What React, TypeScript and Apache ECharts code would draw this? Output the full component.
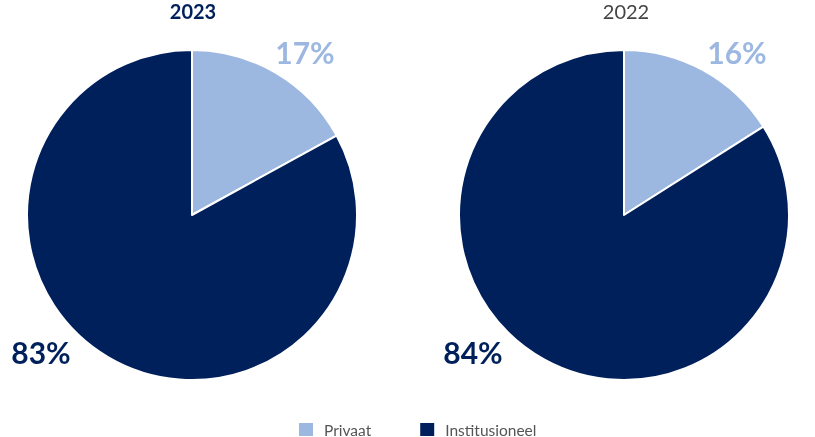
import React, { useEffect, useRef } from "react";
import * as echarts from "echarts";

const categories = ["Privaat", "Institusioneel"];
const years = ["2023", "2022"];
const values2023 = [17, 83];
const values2022 = [16, 84];
const colors = ["#9db8e0", "#00205b"];

export default function App() {
  const ref = useRef<HTMLDivElement>(null);
  useEffect(() => {
    if (!ref.current) return;
    const chart = echarts.init(ref.current, null, { renderer: "svg" });
    const labelPos = (cx: number) => (params: any) => {
      if (params.dataIndex === 0) {
        return { x: cx + 113, y: 52, align: "center", verticalAlign: "middle" };
      }
      return { x: cx - 151, y: 352, align: "center", verticalAlign: "middle" };
    };
    const mkSeries = (name: string, vals: number[], cx: number) => ({
      type: "pie",
      name,
      center: [cx, 215],
      radius: [0, 165],
      startAngle: 90,
      clockwise: true,
      silent: true,
      itemStyle: { borderColor: "#ffffff", borderWidth: 2 },
      label: {
        show: true,
        position: "outside",
        formatter: (p: any) => `${p.value}%`,
        fontSize: 30,
        fontWeight: "bold",
        fontFamily: "Lato",
        overflow: "none",
        width: 100,
      },
      labelLine: { show: false },
      labelLayout: labelPos(cx),
      data: categories.map((c, i) => ({
        name: c,
        value: vals[i],
        itemStyle: { color: colors[i] },
        label: { color: colors[i] },
      })),
    });
    chart.setOption({
      animation: false,
      color: colors,
      title: [
        {
          text: years[0],
          left: 193,
          top: 1,
          padding: 0,
          textAlign: "center",
          textStyle: { fontSize: 20, fontWeight: "bold", color: "#00205b", fontFamily: "Lato" },
        },
        {
          text: years[1],
          left: 626,
          top: 1,
          padding: 0,
          textAlign: "center",
          textStyle: { fontSize: 20, fontWeight: "normal", color: "#444444", fontFamily: "Lato" },
        },
      ],
      legend: {
        data: categories,
        top: 421,
        left: 297,
        padding: 0,
        icon: "rect",
        itemWidth: 16,
        itemHeight: 15,
        itemGap: 47,
        textStyle: {
          fontSize: 15.5,
          color: "#555555",
          fontFamily: "Lato",
          padding: [0, 0, 0, 5],
        },
      },
      series: [mkSeries(years[0], values2023, 192), mkSeries(years[1], values2022, 624)],
    });
    return () => chart.dispose();
  }, []);
  return (
    <div
      ref={ref}
      style={{ position: "fixed", left: 0, top: 0, width: 815, height: 437 }}
    />
  );
}
